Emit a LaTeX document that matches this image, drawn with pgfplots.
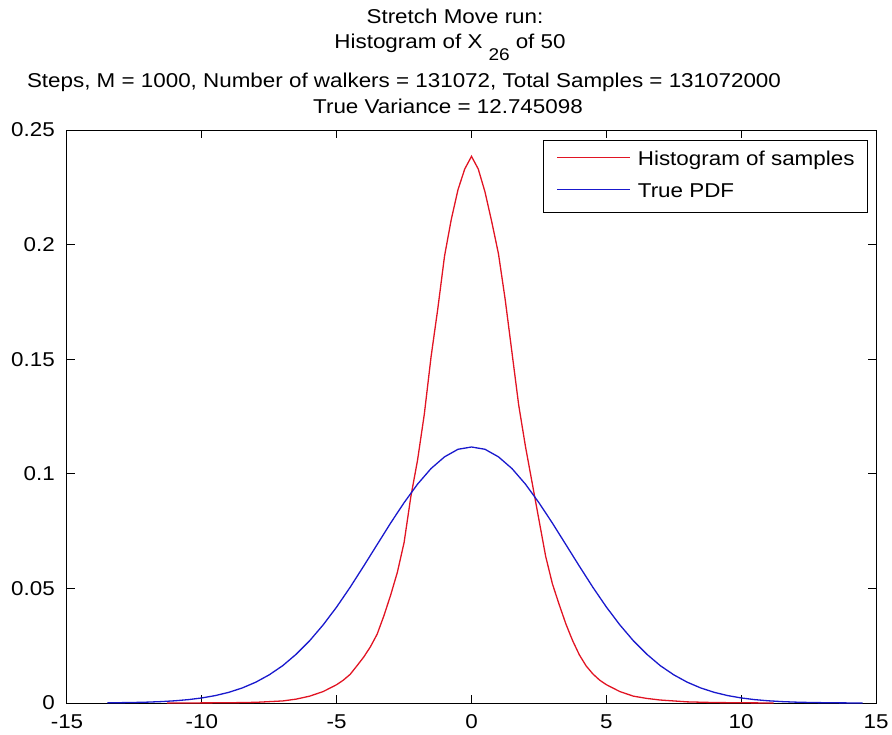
\documentclass[border=0pt]{standalone}
\usepackage{pgfplots}
\pgfplotsset{compat=1.18}
\usepackage{fontspec}
\setmainfont{Liberation Sans}[FakeStretch=1.12]
\definecolor{mred}{RGB}{225,20,35}
\definecolor{mblue}{RGB}{25,25,205}

\pgfplotstableread{
x y
-11.3 0
-10 0.00005
-9 0.0001
-8 0.0003
-7 0.0009
-6.5 0.0017
-6 0.0030
-5.5 0.0050
-5 0.0080
-4.75 0.0100
-4.5 0.0125
-4.25 0.0162
-4 0.0200
-3.75 0.0245
-3.5 0.0300
-3.25 0.0380
-3 0.0470
-2.75 0.0570
-2.5 0.0700
-2.25 0.0900
-2 0.1060
-1.75 0.1260
-1.5 0.1510
-1.25 0.1720
-1 0.1950
-0.75 0.2110
-0.5 0.2240
-0.25 0.2330
0 0.2385
0.25 0.2330
0.5 0.2230
0.75 0.2100
1 0.1960
1.25 0.1760
1.5 0.1530
1.75 0.1300
2 0.1120
2.25 0.0960
2.5 0.0800
2.75 0.0640
3 0.0520
3.25 0.0430
3.5 0.0345
3.75 0.0272
4 0.0210
4.25 0.0162
4.5 0.0127
4.75 0.0100
5 0.0080
5.5 0.0050
6 0.0030
6.5 0.0020
7 0.0013
8 0.0005
9 0.0002
10 0.0001
11.2 0
}\histdata

\pgfplotstableread{
x y
-13.5 0.00008
-13 0.00015
-12.5 0.00024
-12 0.00039
-11.5 0.00062
-11 0.00097
-10.5 0.00148
-10 0.00221
-9.5 0.00324
-9 0.00466
-8.5 0.00657
-8 0.00908
-7.5 0.0123
-7 0.0163
-6.5 0.0213
-6 0.0272
-5.5 0.0341
-5 0.0419
-4.5 0.0505
-4 0.0597
-3.5 0.0691
-3 0.0785
-2.5 0.0874
-2 0.0955
-1.5 0.1023
-1 0.1074
-0.5 0.1107
0 0.1117
0.5 0.1107
1 0.1074
1.5 0.1023
2 0.0955
2.5 0.0874
3 0.0785
3.5 0.0691
4 0.0597
4.5 0.0505
5 0.0419
5.5 0.0341
6 0.0272
6.5 0.0213
7 0.0163
7.5 0.0123
8 0.00908
8.5 0.00657
9 0.00466
9.5 0.00324
10 0.00221
10.5 0.00148
11 0.00097
11.5 0.00062
12 0.00039
12.5 0.00024
13 0.00015
13.5 0.00008
14 0.00004
14.5 0.00002
}\pdfdata

\begin{document}
\begin{tikzpicture}[font=\fontsize{20}{24}\selectfont]
\path (0pt,0pt) rectangle (892pt,-734pt);
\begin{axis}[
  at={(67pt,-703pt)}, anchor=south west,
  width=809pt, height=573pt, scale only axis,
  xmin=-15, xmax=15, ymin=0, ymax=0.25,
  xtick={-15,-10,-5,0,5,10,15},
  xticklabels={-15,-10,-5,0,5,10,15},
  ytick={0,0.05,0.1,0.15,0.2,0.25},
  yticklabels={0,0.05,0.1,0.15,0.2,0.25},
  tick align=inside, major tick length=8pt,
  tick style={black, line width=1pt},
  axis line style={black, line width=1pt},
  xticklabel style={inner sep=0pt, anchor=base, yshift=-25pt},
  yticklabel style={inner sep=0pt, anchor=east, xshift=-12pt},
  legend style={at={(1,1)}, anchor=north east, xshift=-8pt, yshift=-10pt,
    draw=black, line width=1pt, inner xsep=13pt, inner ysep=11pt,
    row sep=14pt, column sep=7pt,
    nodes={inner sep=0pt, text height=14pt, text depth=4pt}},
  legend cell align=left,
  legend image code/.code={\draw[#1, line width=1.4pt] (0pt,3pt) -- (73pt,3pt);},
]
\addplot[mred, line width=1.3pt] table[x=x,y=y] {\histdata};
\addlegendentry{Histogram of samples}
\addplot[mblue, line width=1.3pt] table[x=x,y=y] {\pdfdata};
\addlegendentry{True PDF}
\end{axis}
\node[anchor=base] at (455pt,-23pt) {Stretch Move run:};
\node[anchor=base] at (450pt,-48pt) {Histogram of X\hspace{6pt}\raisebox{-12pt}{\fontsize{17}{17}\selectfont 26}\hspace{6pt}of 50};
\node[anchor=base] at (404pt,-87pt) {Steps, M = 1000, Number of walkers = 131072, Total Samples = 131072000};
\node[anchor=base] at (448pt,-113pt) {True Variance = 12.745098};
\end{tikzpicture}
\end{document}
